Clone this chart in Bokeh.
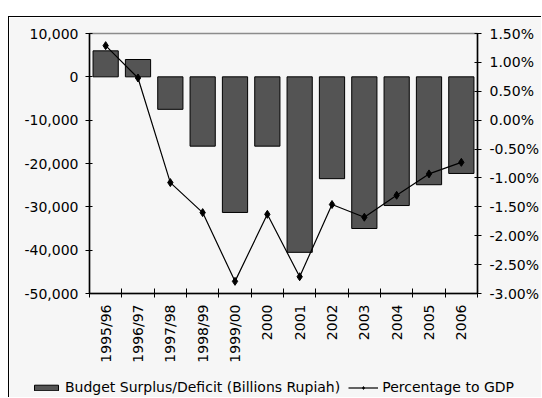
import math
from bokeh.plotting import figure
from bokeh.models import (Range1d, LinearAxis, FixedTicker, NumeralTickFormatter,
                          PrintfTickFormatter, Legend, LegendItem, ColumnDataSource)
from bokeh.embed import file_html
from bokeh.resources import INLINE

# Indonesian central government budget balance by fiscal year
years = ["1995/96", "1996/97", "1997/98", "1998/99", "1999/00", "2000",
         "2001", "2002", "2003", "2004", "2005", "2006"]
surplus_bn_rupiah = [6000, 4000, -7500, -16000, -31300, -16000,
                     -40500, -23500, -35000, -29700, -24900, -22300]
pct_to_gdp = [1.29, 0.73, -1.08, -1.60, -2.79, -1.63,
              -2.71, -1.46, -1.68, -1.30, -0.93, -0.73]

left_ticks = [10000, 0, -10000, -20000, -30000, -40000, -50000]
right_ticks = [1.5, 1.0, 0.5, 0.0, -0.5, -1.0, -1.5, -2.0, -2.5, -3.0]

bar_label = "Budget Surplus/Deficit (Billions Rupiah)"
line_label = "Percentage to GDP"

FONT = "DejaVu Sans"
BG = "#f6f6f6"
BAR_FILL = "#545454"
BOX = {"border-left": "1px solid black"}

centers = [i + 0.5 for i in range(len(years))]
bounds = [float(i) for i in range(len(years) + 1)]

src = ColumnDataSource(dict(x=centers, year=years, surplus=surplus_bn_rupiah,
                            pct=pct_to_gdp))


def draw_series(fig, pct_range):
    bars = fig.vbar(x="x", top="surplus", bottom=0, width=0.78, source=src,
                    fill_color=BAR_FILL, line_color="black", line_width=1)
    line = fig.line(x="x", y="pct", source=src, y_range_name=pct_range,
                    line_color="black", line_width=1.2)
    pts = fig.scatter(x="x", y="pct", source=src, y_range_name=pct_range,
                      marker="diamond", size=8, fill_color="black", line_color="black")
    return bars, line, pts


p = figure(width=533, height=359,
           x_range=Range1d(0, len(years)),
           y_range=Range1d(min(left_ticks), max(left_ticks)),
           output_backend="svg", toolbar_location=None,
           x_axis_location=None, y_axis_location=None,
           min_border_left=80, min_border_right=65,
           min_border_top=16, min_border_bottom=83,
           background_fill_color=BG, border_fill_color=BG,
           outline_line_color="#8c8c8c", outline_line_width=1.5,
           margin=(16, 0, 0, 8),
           styles={**BOX, "border-top": "1px solid black"})
p.xgrid.visible = False
p.ygrid.visible = False
p.extra_y_ranges = {"pct": Range1d(min(right_ticks), max(right_ticks))}

# Axes: billions on the left, percent of GDP on the right,
# fiscal years centred between boundary ticks along the bottom
left = LinearAxis(ticker=FixedTicker(ticks=left_ticks, minor_ticks=[]),
                  formatter=NumeralTickFormatter(format="0,0"))
right = LinearAxis(y_range_name="pct",
                   ticker=FixedTicker(ticks=right_ticks, minor_ticks=[]),
                   formatter=PrintfTickFormatter(format="%.2f%%"))
bottom = LinearAxis(ticker=FixedTicker(ticks=centers, minor_ticks=bounds),
                    major_label_overrides={c: y for c, y in zip(centers, years)},
                    major_label_orientation=math.pi / 2)

for ax in (left, right, bottom):
    ax.axis_line_color = "black"
    ax.axis_line_width = 1.5
    ax.major_tick_line_color = "black"
    ax.minor_tick_line_color = "black"
    ax.major_tick_in = 3
    ax.major_tick_out = 4
    ax.major_label_text_font = FONT
    ax.major_label_text_font_size = "14px"
    ax.major_label_text_color = "black"
    ax.major_label_standoff = 7

bottom.major_tick_line_color = None
bottom.minor_tick_in = 5
bottom.minor_tick_out = 4
bottom.major_label_standoff = 7
right.major_label_standoff = 8

p.add_layout(left, "left")
p.add_layout(right, "right")
p.add_layout(bottom, "below")

draw_series(p, "pct")

# Legend strip under the chart: same series, with value ranges set above
# every value so that only the legend swatches are visible here.
top_val = 10 * max(left_ticks)
leg = figure(width=533, height=23, x_range=Range1d(0, len(years)),
             y_range=Range1d(top_val, top_val + 1),
             output_backend="svg", toolbar_location=None,
             x_axis_location=None, y_axis_location=None,
             min_border_left=0, min_border_right=0,
             min_border_top=0, min_border_bottom=0,
             background_fill_color=BG, border_fill_color=BG,
             outline_line_color=None, margin=(-1, 0, 0, 8), styles=BOX)
leg.xgrid.visible = False
leg.ygrid.visible = False
leg.extra_y_ranges = {"pct": Range1d(top_val, top_val + 1)}
lb, ll, lp = draw_series(leg, "pct")

legend = Legend(
    items=[LegendItem(label=bar_label, renderers=[lb]),
           LegendItem(label=line_label, renderers=[ll, lp])],
    location=(22, 2), orientation="horizontal",
    background_fill_alpha=0, border_line_color=None,
    label_text_font=FONT, label_text_font_size="14px", label_text_color="black",
    glyph_width=30, glyph_height=7, label_height=14,
    label_standoff=4, spacing=8, padding=0, margin=0)
leg.add_layout(legend, "center")

open("out.html", "w").write(file_html([p, leg], INLINE))
